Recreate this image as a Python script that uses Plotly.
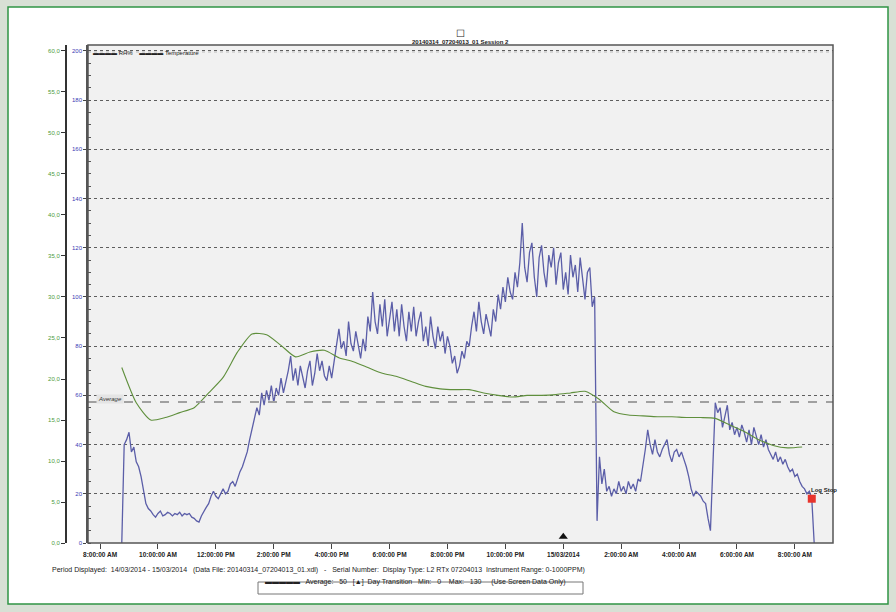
import pandas as pd
import plotly.graph_objects as go

# ---------------- data ----------------
ppm_start = "2014-03-14 08:45"
ppm_values = [0, 40, 42, 45, 37, 39, 33, 31, 27, 21, 16, 14, 13, 11.5, 10.5, 12, 13, 11, 11.5, 12.5,
              12, 11, 12, 11.5, 12.5, 11, 12, 11.5, 12, 10.5, 10, 9, 8.5, 11, 13, 14.5, 16, 19, 21, 19,
              18, 20, 22, 20, 21, 24, 25, 23, 26, 29, 31, 34, 37, 42, 46, 51, 55, 52, 61, 56,
              62, 58, 64, 57, 63, 60, 67, 61, 65, 70, 76, 66, 71, 64, 72, 67, 63, 70, 74, 64,
              69, 77, 70, 74, 68, 66, 72, 67, 74, 80, 87, 79, 82, 76, 90, 81, 78, 86, 80, 75,
              83, 78, 92, 86, 102, 90, 85, 97, 88, 99, 84, 92, 98, 86, 95, 84, 97, 88, 82, 94,
              86, 96, 84, 90, 94, 82, 88, 80, 92, 84, 79, 88, 82, 86, 77, 84, 80, 73, 76, 69,
              72, 78, 75, 82, 80, 88, 94, 86, 98, 90, 85, 93, 88, 84, 95, 90, 101, 95, 104, 98,
              108, 102, 99, 110, 104, 114, 130, 112, 106, 118, 122, 108, 100, 116, 121, 110, 104, 117, 112, 120,
              105, 114, 118, 103, 110, 101, 117, 108, 113, 102, 116, 106, 99, 110, 112, 96, 100, 9, 35, 24,
              30, 21, 23, 19, 22, 20, 25, 21, 23, 20, 25, 22, 24, 21, 26, 25, 31, 38, 46, 40,
              36, 42, 37, 35, 38, 40, 42, 36, 33, 37, 38, 35, 37, 34, 31, 27, 22, 19, 21, 20,
              19, 17, 16, 10, 5, 31, 57, 53, 55, 47, 51, 56, 46, 49, 44, 47, 43, 48, 45, 41,
              46, 40, 47, 43, 40, 44, 39, 42, 38, 36, 34, 37, 33, 35, 32, 34, 31, 29, 30, 27,
              28, 25, 23, 22, 20, 21, 18, 0]
temp_values = [21.4, 17.1, 15.0, 15.3, 15.9, 16.5, 18.3, 20.2, 23.3, 25.5, 25.4, 24.1, 22.7, 23.3, 23.5, 22.6,
               22.1, 21.4, 20.7, 20.3, 19.7, 19.1, 18.8, 18.7, 18.7, 18.3, 18.0, 17.8, 18.0, 18.0, 18.1, 18.3,
               18.5, 17.5, 16.0, 15.6, 15.5, 15.4, 15.4, 15.3, 15.3, 15.2, 14.4, 13.6, 12.6, 11.9, 11.6, 11.7]
average_level = 57.3
log_stop_index = len(ppm_values) - 2
day_transition = "2014-03-15 00:00"

x_tickvals = ["2014-03-14 08:00", "2014-03-14 10:00", "2014-03-14 12:00", "2014-03-14 14:00",
              "2014-03-14 16:00", "2014-03-14 18:00", "2014-03-14 20:00", "2014-03-14 22:00",
              "2014-03-15 00:00", "2014-03-15 02:00", "2014-03-15 04:00", "2014-03-15 06:00",
              "2014-03-15 08:00"]
x_ticktext = ["8:00:00 AM", "10:00:00 AM", "12:00:00 PM", "2:00:00 PM", "4:00:00 PM", "6:00:00 PM",
              "8:00:00 PM", "10:00:00 PM", "15/03/2014", "2:00:00 AM", "4:00:00 AM", "6:00:00 AM",
              "8:00:00 AM"]
ppm_ticks = [0, 20, 40, 60, 80, 100, 120, 140, 160, 180, 200]
temp_ticks = [0, 5, 10, 15, 20, 25, 30, 35, 40, 45, 50, 55, 60]
temp_ticktext = [f"{v:.1f}".replace(".", ",") for v in temp_ticks]

ppm_times = pd.date_range(ppm_start, periods=len(ppm_values), freq="5min")
temp_times = pd.date_range(ppm_start, periods=len(temp_values), freq="30min")

# ---------------- geometry ----------------
W, H = 896, 612
ML, MR, MT, MB = 40, 63, 45, 69
PW = W - ML - MR
PH = H - MT - MB


def px(p):
    return (p - ML) / PW


def py(p):
    return (H - MB - p) / PH


FONT = "Liberation Sans, Arial, sans-serif"
BLUE = "#5b5ea8"
GREEN = "#5f8f3c"

fig = go.Figure()

fig.add_trace(go.Scatter(x=temp_times, y=temp_values, yaxis="y2", mode="lines",
                         line=dict(color=GREEN, width=1.1, shape="spline", smoothing=0.6),
                         hoverinfo="skip", showlegend=False))
fig.add_trace(go.Scatter(x=ppm_times, y=ppm_values, mode="lines",
                         line=dict(color=BLUE, width=1.3), showlegend=False))
fig.add_trace(go.Scatter(x=[ppm_times[log_stop_index]], y=[ppm_values[log_stop_index]], mode="markers",
                         marker=dict(symbol="square", size=8, color="#e8342c"), showlegend=False))
fig.add_trace(go.Scatter(x=[day_transition], y=[2.5], mode="markers",
                         marker=dict(symbol="triangle-up", size=8, color="#111"), showlegend=False))

shapes = [
    # white panel with green border
    dict(type="rect", xref="paper", yref="paper", x0=px(8), x1=px(888), y0=py(604), y1=py(7),
         fillcolor="white", line=dict(color="#2f9444", width=1.5), layer="below"),
    # plot area background
    dict(type="rect", xref="x domain", yref="y domain", x0=0, x1=1, y0=0, y1=1,
         fillcolor="#f1f1f1", line=dict(width=0), layer="below"),
    # average dashed line
    dict(type="line", xref="x domain", yref="y", x0=0, x1=1, y0=average_level, y1=average_level,
         line=dict(color="#a0a0a0", width=2, dash="dash")),
    # legend strip line
    dict(type="line", xref="x domain", yref="paper", x0=0, x1=1, y0=py(52), y1=py(52),
         line=dict(color="#bbbbbb", width=1, dash="dot")),
    # plot frame
    dict(type="rect", xref="x domain", yref="y domain", x0=0, x1=1, y0=0, y1=1,
         line=dict(color="#555", width=1.5)),
    # footer box
    dict(type="rect", xref="paper", yref="paper", x0=px(258), x1=px(583), y0=py(594), y1=py(582),
         line=dict(color="#777", width=1)),
]

annotations = [
    dict(text="☐", x=0.5 * (px(88) + 1), y=py(26), xref="paper", yref="paper", showarrow=False,
         font=dict(size=10, color="#222", family=FONT)),
    dict(text="<b>20140314_07204013_01 Session 2</b>", x=0.5 * (px(88) + 1), y=py(37), xref="paper",
         yref="paper", showarrow=False, font=dict(size=6, color="#222", family=FONT)),
    dict(text="<b>▬▬▬▬</b> RH%    <b>▬▬▬▬</b> Temperature", x=px(91), y=py(48), xref="paper",
         yref="paper", xanchor="left", showarrow=False, font=dict(size=6, color="#222", family=FONT)),
    dict(text="<i>Average</i>", x=px(96), y=average_level + 1.2, xref="paper", yref="y", xanchor="left",
         showarrow=False, font=dict(size=6, color="#333", family=FONT), bgcolor="#e4e4e4"),
    dict(text="<b>Log Stop</b>", x=ppm_times[log_stop_index], y=ppm_values[log_stop_index], xref="x", yref="y",
         xshift=12, yshift=9, showarrow=False, font=dict(size=6, color="#222", family=FONT)),
    dict(text="Period Displayed:  14/03/2014 - 15/03/2014   (Data File: 20140314_07204013_01.xdl)   -   "
              "Serial Number:  Display Type: L2 RTx 07204013  Instrument Range: 0-1000PPM)",
         x=px(50), y=py(576), xref="paper", yref="paper", xanchor="left", showarrow=False,
         font=dict(size=7, color="#222", family=FONT)),
    dict(text="<b>▬▬▬▬▬</b>   Average:   50   [▲]  Day Transition   Min:   0    Max:   130     (Use Screen Data Only)",
         x=px(263), y=py(588), xref="paper", yref="paper", xanchor="left", showarrow=False,
         font=dict(size=7, color="#222", family=FONT)),
]

fig.update_layout(
    width=W, height=H,
    margin=dict(l=ML, r=MR, t=MT, b=MB),
    paper_bgcolor="#d8e0d5",
    plot_bgcolor="rgba(0,0,0,0)",
    font=dict(family=FONT, size=6, color="#222"),
    showlegend=False,
    shapes=shapes,
    annotations=annotations,
    xaxis=dict(type="date", domain=[px(88), 1], range=["2014-03-14 07:35", "2014-03-15 09:19"],
               tickvals=x_tickvals, ticktext=[f"<b>{t}</b>" for t in x_ticktext],
               tickfont=dict(size=6.5, color="#222"), ticks="outside", ticklen=5, tickcolor="#444",
               showgrid=False, zeroline=False, showline=False),
    yaxis=dict(range=[0, 202.4], tickvals=ppm_ticks, tickfont=dict(size=6, color="#3b3bb5"),
               ticks="outside", ticklen=3, tickcolor="#444",
               minor=dict(ticks="inside", dtick=5, ticklen=3, tickcolor="#555"),
               showgrid=True, gridcolor="#5e5e5e", griddash="dot", gridwidth=1,
               zeroline=False, showline=True, linecolor="#555", linewidth=1.5),
    yaxis2=dict(overlaying="y", anchor="free", position=px(66), side="left", range=[0, 60.73],
                tickvals=temp_ticks, ticktext=temp_ticktext, tickfont=dict(size=6, color="#4d9a3a"),
                ticks="outside", ticklen=4, tickcolor="#333", showgrid=False, zeroline=False,
                showline=True, linecolor="#333", linewidth=2),
)

fig.write_html("out.html", config={"displayModeBar": False},
               post_script="document.body.style.margin='0px';document.body.style.overflow='hidden';")
